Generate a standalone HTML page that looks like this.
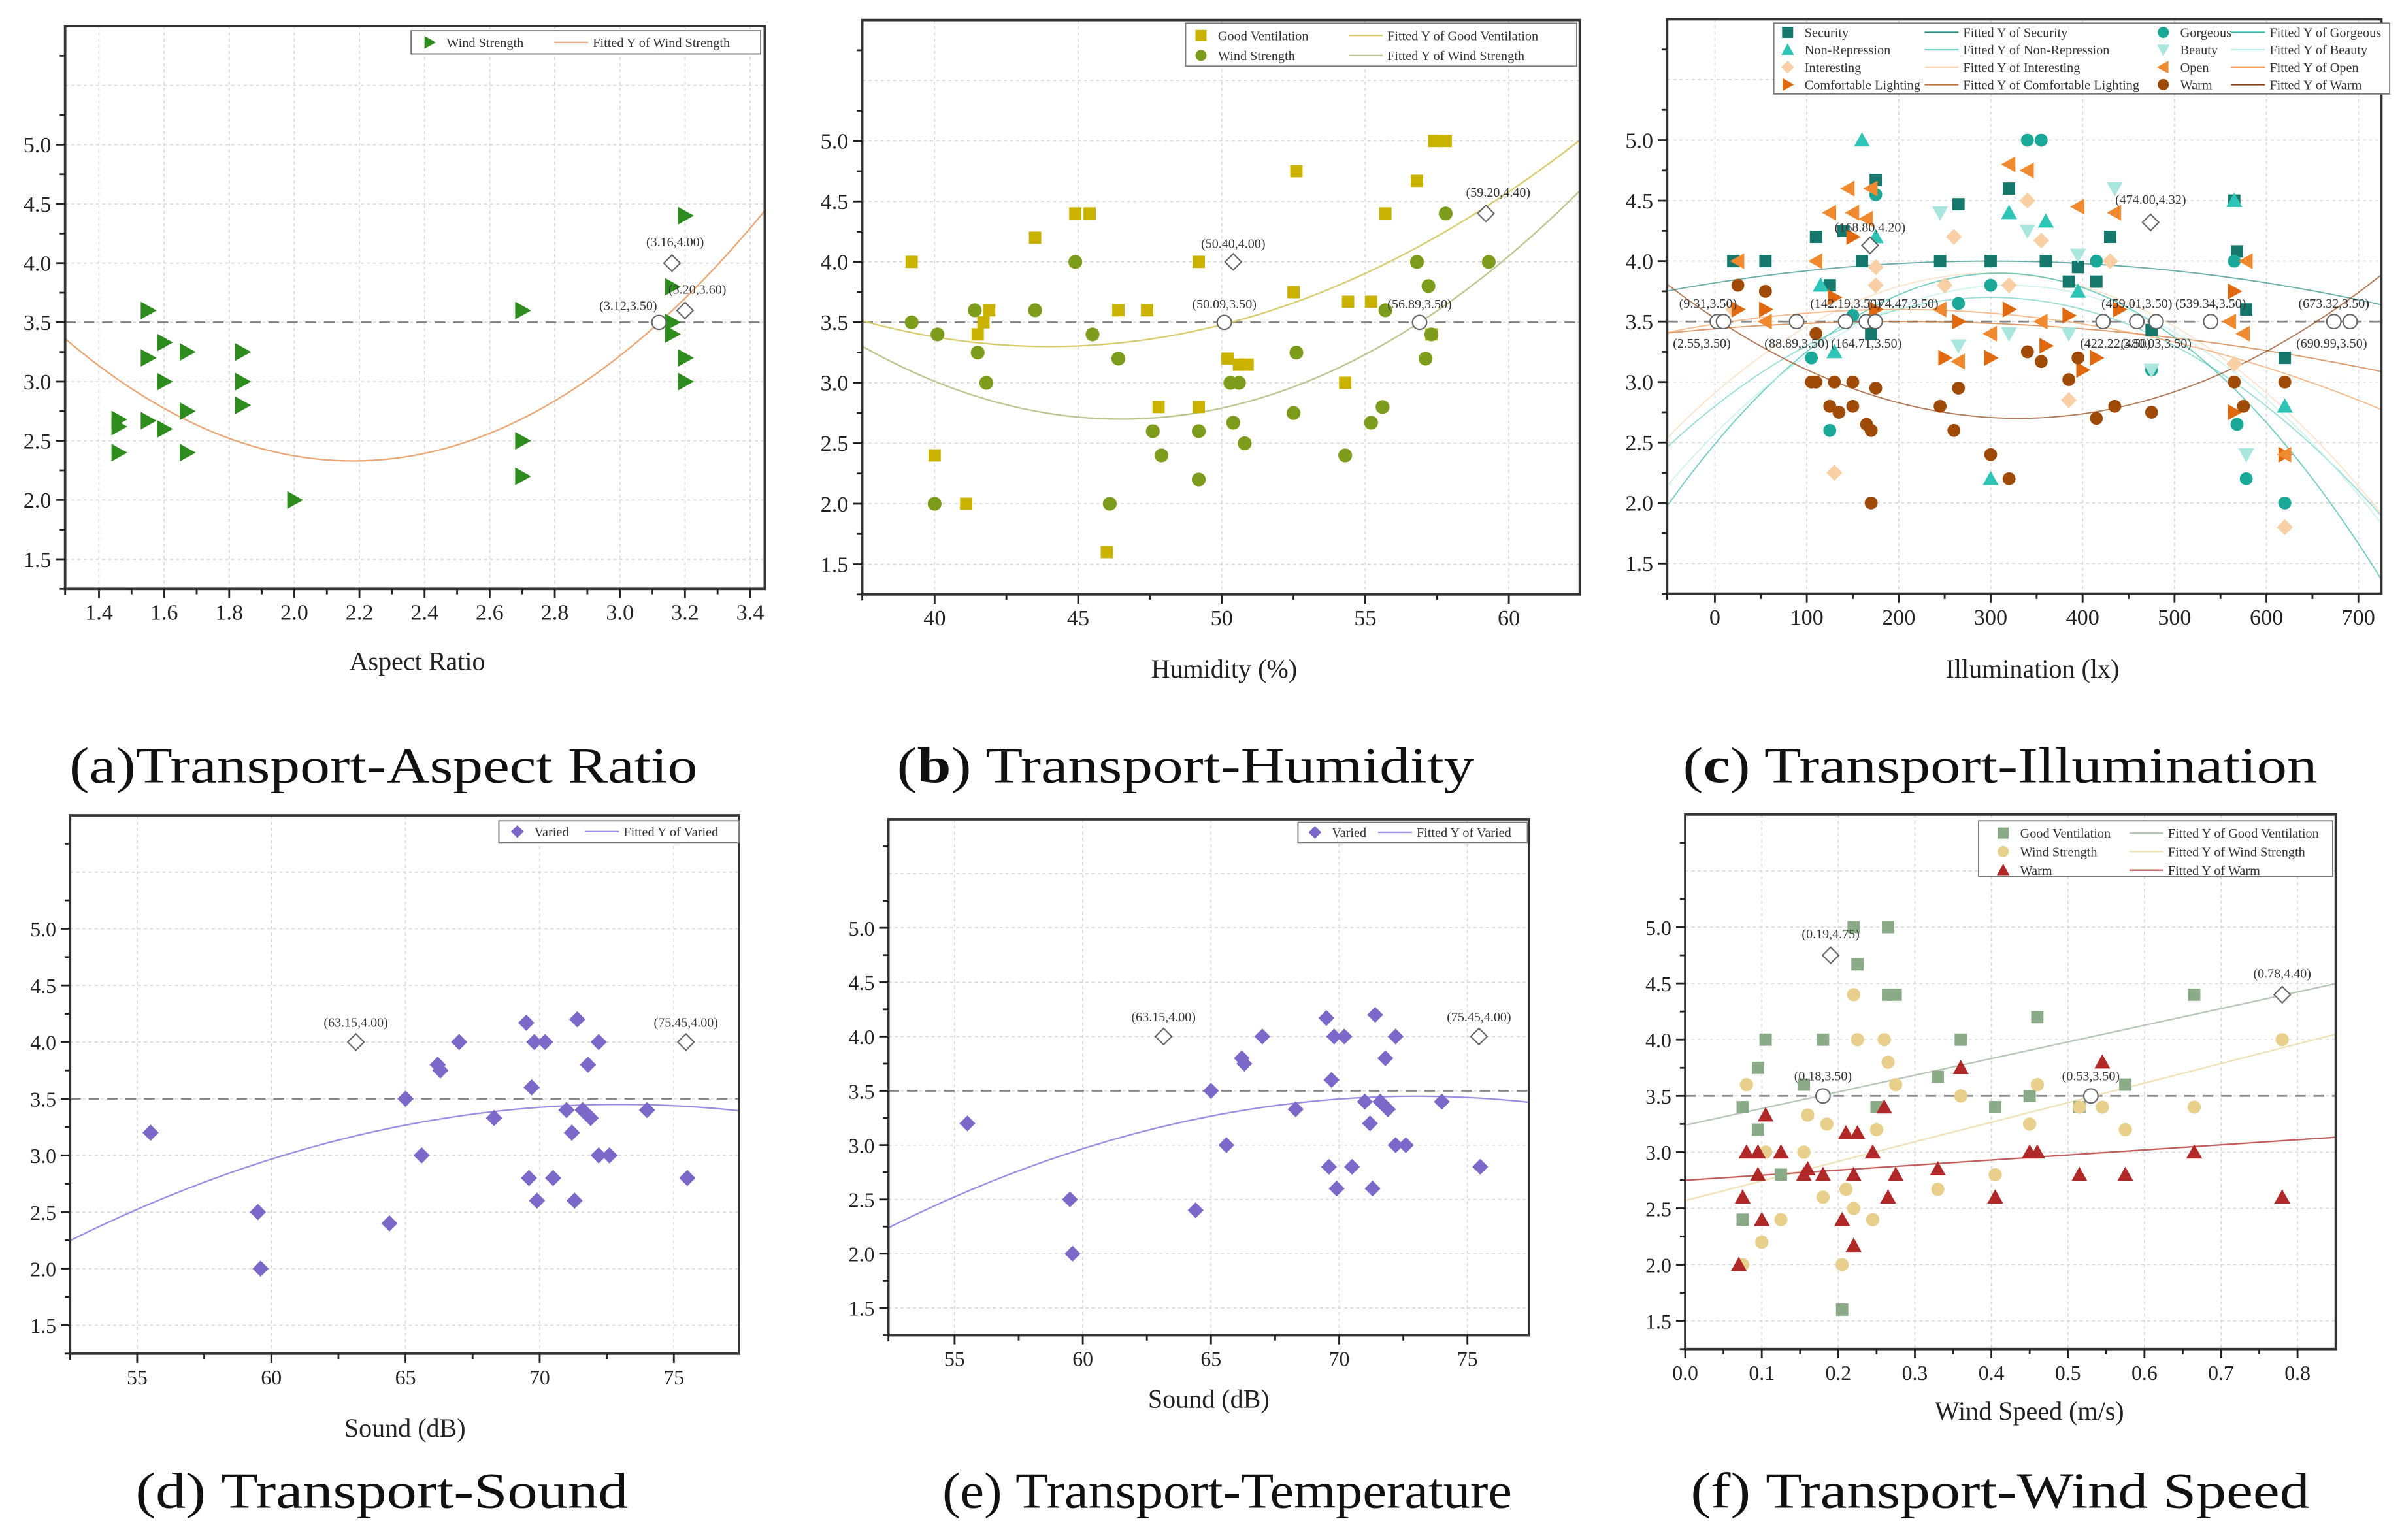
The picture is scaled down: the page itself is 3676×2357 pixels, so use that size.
<!DOCTYPE html>
<html><head><meta charset="utf-8"><style>
html,body{margin:0;padding:0;background:#fff;}
svg{display:block;}
text{font-family:"Liberation Serif",serif;}
</style></head><body>
<svg id="fig" xmlns="http://www.w3.org/2000/svg" width="3676" height="2357" viewBox="0 0 1560 1000" preserveAspectRatio="none"></svg>
<script>
// ---------- DATA ----------
const aTicksX = [1.4,1.6,1.8,2.0,2.2,2.4,2.6,2.8,3.0,3.2,3.4];
const aWindX = [1.46,1.46,1.46,1.55,1.55,1.55,1.6,1.6,1.6,1.67,1.67,1.67,1.84,1.84,1.84,2.0,2.7,2.7,2.7,3.16,3.16,3.16,3.2,3.2,3.2];
const aWindY = [2.68,2.62,2.4,3.6,3.2,2.67,3.33,3.0,2.6,3.25,2.75,2.4,3.25,3.0,2.8,2.0,3.6,2.5,2.2,3.8,3.5,3.4,4.4,3.2,3.0];
const aFitWind = [1.32,2.18,2.33];
const aAnnX = [3.12,3.16,3.20];
const aAnnY = [3.5,4.0,3.6];
const aAnnLabels = ["(3.12,3.50)","(3.16,4.00)","(3.20,3.60)"];

const bTicksX = [40,45,50,55,60];
const bVentX = [39.2,40,41.1,41.5,41.7,41.9,43.5,44.9,45.4,46.4,46.0,47.4,47.8,49.2,49.2,50.2,50.6,50.9,52.5,52.6,54.3,54.4,55.2,55.7,56.8,57.4,57.8,57.3];
const bVentY = [4.0,2.4,2.0,3.4,3.5,3.6,4.2,4.4,4.4,3.6,1.6,3.6,2.8,4.0,2.8,3.2,3.15,3.15,3.75,4.75,3.0,3.67,3.67,4.4,4.67,5.0,5.0,3.4];
const bWindX = [39.2,40.1,40.0,41.4,41.5,41.8,43.5,44.9,45.5,46.1,46.4,47.6,47.9,49.2,49.2,50.3,50.4,50.6,50.8,52.5,52.6,54.3,55.2,55.6,55.7,56.8,57.2,57.3,57.1,57.8,59.3];
const bWindY = [3.5,3.4,2.0,3.6,3.25,3.0,3.6,4.0,3.4,2.0,3.2,2.6,2.4,2.6,2.2,3.0,2.67,3.0,2.5,2.75,3.25,2.4,2.67,2.8,3.6,4.0,3.8,3.4,3.2,4.4,4.0];
const bFitVent = [0.005,44,3.3];
const bFitWind = [0.0074,46.5,2.7];
const bAnnX = [50.09,56.89,50.40,59.20];
const bAnnY = [3.5,3.5,4.0,4.4];
const bAnnLabels = ["(50.09,3.50)","(56.89,3.50)","(50.40,4.00)","(59.20,4.40)"];

const cTicksX = [0,100,200,300,400,500,600,700];
const cSecX = [20,55,110,125,140,160,170,175,245,265,300,320,360,385,395,415,430,475,565,568,578,620];
const cSecY = [4.0,4.0,4.2,3.8,4.25,4.0,3.4,4.67,4.0,4.47,4.0,4.6,4.0,3.83,3.95,3.83,4.2,3.43,4.5,4.08,3.6,3.2];
const cNonX = [115,160,175,320,300,360,395,620,565,130];
const cNonY = [3.8,5.0,4.2,4.4,2.2,4.33,3.75,2.8,4.5,3.25];
const cIntX = [20,130,175,175,260,340,355,385,430,565,620,250,320];
const cIntY = [3.6,2.25,3.8,3.95,4.2,4.5,4.17,2.85,4.0,3.15,1.8,3.8,3.8];
const cComX = [25,55,130,150,175,250,265,300,320,360,385,400,415,440,565,565,620];
const cComY = [3.6,3.6,3.7,4.2,3.6,3.2,3.5,3.2,3.6,3.3,3.55,3.1,3.2,3.6,3.75,2.75,2.4];
const cGorX = [125,150,175,265,300,340,355,415,475,565,568,578,620,105];
const cGorY = [2.6,3.55,4.55,3.65,3.8,5.0,5.0,4.0,3.1,4.0,2.65,2.2,2.0,3.2];
const cBeaX = [245,265,320,340,395,435,475,578,385];
const cBeaY = [4.4,3.3,3.4,4.25,4.05,4.6,3.1,2.4,3.4];
const cOpeX = [25,55,110,125,145,150,165,170,245,265,300,320,340,355,395,435,560,578,575,620];
const cOpeY = [4.0,3.5,4.0,4.4,4.6,4.4,4.35,4.6,3.6,3.17,3.4,4.8,4.75,3.5,4.45,4.4,3.5,4.0,3.4,2.4];
const cWarX = [25,55,110,110,125,130,150,150,165,170,170,175,245,260,265,300,320,340,355,385,395,415,435,475,565,575,620,105,135];
const cWarY = [3.8,3.75,3.4,3.0,2.8,3.0,3.0,2.8,2.65,2.6,2.0,2.95,2.8,2.6,2.95,2.4,2.2,3.25,3.17,3.02,3.2,2.7,2.8,2.75,3.0,2.8,3.0,3.0,2.75];
const cFitSec = [-2e-6,300,4.0];
const cFitNon = [-1e-5,300,3.7];
const cFitInt = [-1.1e-5,300,3.9];
const cFitCom = [-1.5e-6,200,3.5];
const cFitGor = [-1.47e-5,310,3.9];
const cFitBea = [-1.2e-5,320,3.8];
const cFitOpe = [-3e-6,200,3.6];
const cFitWar = [7.6e-6,330,2.7];
const cAnnX = [2.55,9.31,88.89,142.19,164.71,174.47,422.22,459.01,480.03,539.34,673.32,690.99,168.80,474.00];
const cAnnY = [3.5,3.5,3.5,3.5,3.5,3.5,3.5,3.5,3.5,3.5,3.5,3.5,4.13,4.32];
const cAnnLabels = ["(2.55,3.50)","(9.31,3.50)","(88.89,3.50)","(142.19,3.50)","(164.71,3.50)","(174.47,3.50)","(422.22,3.50)","(459.01,3.50)","(480.03,3.50)","(539.34,3.50)","(673.32,3.50)","(690.99,3.50)","(168.80,4.20)","(474.00,4.32)"];

const dTicksX = [55,60,65,70,75];
const dVarX = [55.5,59.5,59.6,64.4,65,65.6,66.2,66.3,67,68.3,69.5,69.6,69.7,69.8,69.9,70.2,70.5,71,71.2,71.3,71.4,71.6,71.8,71.9,72.2,72.2,72.6,74,75.5];
const dVarY = [3.2,2.5,2.0,2.4,3.5,3.0,3.8,3.75,4.0,3.33,4.17,2.8,3.6,4.0,2.6,4.0,2.8,3.4,3.2,2.6,4.2,3.4,3.8,3.33,4.0,3.0,3.0,3.4,2.8];
const dFitVar = [-0.00286,73,3.45];
const dAnnX = [63.15,75.45];
const dAnnY = [4.0,4.0];
const dAnnLabels = ["(63.15,4.00)","(75.45,4.00)"];

const fTicksX = [0.0,0.1,0.2,0.3,0.4,0.5,0.6,0.7,0.8];
const fVentX = [0.075,0.075,0.095,0.095,0.105,0.125,0.18,0.155,0.205,0.22,0.225,0.25,0.265,0.265,0.275,0.33,0.36,0.405,0.45,0.46,0.665,0.575,0.515];
const fVentY = [3.4,2.4,3.2,3.75,4.0,2.8,4.0,3.6,1.6,5.0,4.67,3.4,5.0,4.4,4.4,3.67,4.0,3.4,3.5,4.2,4.4,3.6,3.4];
const fWindX = [0.075,0.08,0.1,0.105,0.125,0.155,0.16,0.185,0.205,0.21,0.22,0.225,0.245,0.25,0.26,0.265,0.275,0.33,0.36,0.405,0.45,0.46,0.515,0.545,0.575,0.665,0.78,0.22,0.18];
const fWindY = [2.0,3.6,2.2,3.0,2.4,3.0,3.33,3.25,2.0,2.67,4.4,4.0,2.4,3.2,4.0,3.8,3.6,2.67,3.5,2.8,3.25,3.6,3.4,3.4,3.2,3.4,4.0,2.5,2.6];
const fWarmX = [0.07,0.075,0.08,0.095,0.095,0.105,0.125,0.155,0.16,0.18,0.205,0.21,0.22,0.225,0.245,0.26,0.275,0.33,0.36,0.405,0.45,0.46,0.515,0.545,0.575,0.665,0.78,0.1,0.265,0.22];
const fWarmY = [2.0,2.6,3.0,3.0,2.8,3.33,3.0,2.8,2.85,2.8,2.4,3.17,2.17,3.17,3.0,3.4,2.8,2.85,3.75,2.6,3.0,3.0,2.8,3.8,2.8,3.0,2.6,2.4,2.6,2.8];
const fFitVent = [3.24,1.48];
const fFitWind = [2.57,1.74];
const fFitWarm = [2.75,0.45];
const fAnnX = [0.18,0.53,0.19,0.78];
const fAnnY = [3.5,3.5,4.75,4.40];
const fAnnLabels = ["(0.18,3.50)","(0.53,3.50)","(0.19,4.75)","(0.78,4.40)"];

const yTickVals = [1.5,2.0,2.5,3.0,3.5,4.0,4.5,5.0];

// ---------- DRAWING ----------
const NS = "http://www.w3.org/2000/svg";
const svg = document.getElementById('fig');
function mk(tag, attrs, parent, name, inter) {
  const el = document.createElementNS(NS, tag);
  for (const k in attrs) el.setAttribute(k, attrs[k]);
  
  
  (parent || svg).appendChild(el);
  return el;
}
function txt(str, x, y, size, anchor, parent, name, extra) {
  const a = Object.assign({x:x, y:y, 'font-size':size, 'text-anchor':anchor||'middle', fill:'#222'}, extra||{});
  const t = mk('text', a, parent, name, false);
  t.textContent = str;
  return t;
}
function marker(g, shape, cx, cy, s, fill, stroke, name) {
  let el;
  const sw = stroke ? 0.9 : 0;
  const st = stroke || 'none';
  if (shape === 'square') el = mk('rect', {x:cx-s, y:cy-s, width:2*s, height:2*s, fill:fill, stroke:st, 'stroke-width':sw}, g, name, false);
  else if (shape === 'circle') el = mk('circle', {cx:cx, cy:cy, r:s, fill:fill, stroke:st, 'stroke-width':sw}, g, name, false);
  else {
    let pts;
    const k = s*1.15;
    if (shape === 'up') pts = [[cx,cy-k],[cx+k,cy+k*0.8],[cx-k,cy+k*0.8]];
    else if (shape === 'down') pts = [[cx,cy+k],[cx+k,cy-k*0.8],[cx-k,cy-k*0.8]];
    else if (shape === 'right') pts = [[cx+k,cy],[cx-k*0.8,cy-k],[cx-k*0.8,cy+k]];
    else if (shape === 'left') pts = [[cx-k,cy],[cx+k*0.8,cy-k],[cx+k*0.8,cy+k]];
    else pts = [[cx,cy-k],[cx+k,cy],[cx,cy+k],[cx-k,cy]];
    el = mk('polygon', {points: pts.map(p=>p.join(',')).join(' '), fill:fill, stroke:st, 'stroke-width':sw}, g, name, false);
  }
  return el;
}

function panel(cfg) {
  const g = mk('g', {}, svg, 'panel-' + cfg.id, false);
  const L=cfg.box[0], T=cfg.box[1], R=cfg.box[2], B=cfg.box[3];
  const sx = v => L + (v - cfg.xd[0]) / (cfg.xd[1]-cfg.xd[0]) * (R-L);
  const sy = v => B - (v - 1.25) / (6.0 - 1.25) * (B-T);
  const clip = mk('clipPath', {id:'clip-'+cfg.id}, g, 'clip-' + cfg.id, false);
  mk('rect', {x:L, y:T, width:R-L, height:B-T}, clip, 'clip-rect', false);
  const grid = mk('g', {stroke:'#d8d8d8', 'stroke-width':0.7, 'stroke-dasharray':'2,2'}, g, 'grid-' + cfg.id, false);
  cfg.xt.forEach(v => mk('line', {x1:sx(v), x2:sx(v), y1:T, y2:B}, grid, 'grid-x', false));
  for (let v=1.5; v<=5.99; v+=0.5) mk('line', {x1:L, x2:R, y1:sy(v), y2:sy(v)}, grid, 'grid-y', false);
  mk('line', {x1:L, x2:R, y1:sy(3.5), y2:sy(3.5), stroke:'#888', 'stroke-width':1.2, 'stroke-dasharray':'7,5'}, g, 'threshold-line-3-5', false);
  const fg = mk('g', {'clip-path':'url(#clip-'+cfg.id+')'}, g, 'fit-lines', false);
  cfg.fits.forEach(f => {
    const pts = [];
    for (let i=0;i<=120;i++) {
      const x = cfg.xd[0] + (cfg.xd[1]-cfg.xd[0])*i/120;
      const y = f.p.length===3 ? f.p[0]*(x-f.p[1])*(x-f.p[1]) + f.p[2] : f.p[0] + f.p[1]*x;
      pts.push(sx(x).toFixed(2)+','+sy(y).toFixed(2));
    }
    mk('polyline', {points:pts.join(' '), fill:'none', stroke:f.c, 'stroke-width':cfg.fitW||1, opacity:cfg.fitO||1}, fg, f.name, false);
  });
  cfg.series.forEach(s => {
    const sg = mk('g', {}, g, s.name, false);
    s.x.forEach((xv,i) => marker(sg, s.shape, sx(xv), sy(s.y[i]), s.r||4.5, s.c, s.stroke, s.name + '-point'));
  });
  const ag = mk('g', {}, g, 'annotations', false);
  cfg.ann.x.forEach((xv,i) => {
    const px = sx(xv), py = sy(cfg.ann.y[i]);
    const isDia = Math.abs(cfg.ann.y[i]-3.5) > 0.01;
    marker(ag, isDia ? 'diamond' : 'circle', px, py, 4.6, '#fff', '#666', isDia ? 'annotation-diamond' : 'annotation-circle');
    const off = cfg.ann.off ? cfg.ann.off[i] : -9;
    txt(cfg.ann.l[i], px + (cfg.ann.dx ? cfg.ann.dx[i] : 0), py + off, 8.5, 'middle', ag, 'annotation-label', {fill:'#333'});
  });
  mk('rect', {x:L, y:T, width:R-L, height:B-T, fill:'none', stroke:'#333', 'stroke-width':1.6}, g, 'plot-frame', false);
  const tg = mk('g', {stroke:'#222', 'stroke-width':1.2}, g, 'ticks', false);
  cfg.xt.forEach(v => mk('line', {x1:sx(v), x2:sx(v), y1:B, y2:B+6}, tg, 'x-tick', false));
  for (let i=0;i<cfg.xt.length-1;i++) { const m=(cfg.xt[i]+cfg.xt[i+1])/2; mk('line', {x1:sx(m), x2:sx(m), y1:B, y2:B+3.5}, tg, 'x-minor-tick', false); }
  mk('line', {x1:L, x2:L, y1:B, y2:B+4}, tg, 'x-minor-tick', false);
  yTickVals.forEach(v => mk('line', {x1:L-6, x2:L, y1:sy(v), y2:sy(v)}, tg, 'y-tick', false));
  for (let v=1.25; v<=5.8; v+=0.5) mk('line', {x1:L-3.5, x2:L, y1:sy(v), y2:sy(v)}, tg, 'y-minor-tick', false);
  cfg.xt.forEach((v,i) => txt(cfg.xl[i], sx(v), B+20, cfg.fs, 'middle', g, 'x-tick-label'));
  yTickVals.forEach(v => txt(v.toFixed(1), L-9, sy(v)+5, cfg.fs, 'end', g, 'y-tick-label'));
  txt(cfg.xtitle, cfg.xtp[0], cfg.xtp[1], 17, 'middle', g, 'x-axis-title');
  const cap = txt('', cfg.cap[0], cfg.cap[1], 33, 'middle', g, 'panel-caption', {fill:'#111', textLength:cfg.capW, lengthAdjust:'spacingAndGlyphs'});
  const t1 = mk('tspan', {}, cap, 'caption-letter', false); t1.textContent = cfg.capA;
  const t2 = mk('tspan', cfg.capBold ? {'font-weight':'bold'} : {}, cap, 'caption-letter', false); t2.textContent = cfg.capB;
  const t3 = mk('tspan', {}, cap, 'caption-text', false); t3.textContent = cfg.capC;
  const lg = mk('g', {}, g, 'legend', false);
  const lb = cfg.leg.box;
  mk('rect', {x:lb[0], y:lb[1], width:lb[2]-lb[0], height:lb[3]-lb[1], fill:'#fff', stroke:'#777', 'stroke-width':0.8}, lg, 'legend-box', false);
  cfg.leg.items.forEach(it => {
    if (it.line) mk('line', {x1:it.x, x2:it.x+22, y1:it.y, y2:it.y, stroke:it.c, 'stroke-width':1}, lg, 'legend-line', false);
    else marker(lg, it.shape, it.x+5, it.y, 3.6, it.c, null, 'legend-marker');
    txt(it.t, it.x + (it.line ? 25 : 16), it.y+3, 8.6, 'start', lg, 'legend-entry', {fill:'#333'});
  });
  return g;
}

function legendItems(entries, x0, y0, colW, rowH, perCol) {
  return entries.map((e,i) => Object.assign({x: x0 + Math.floor(i/perCol)*colW, y: y0 + (i%perCol)*rowH}, e));
}

panel({id:'a', box:[42.3,17,496.7,382.4], xd:[1.296,3.445], xt:aTicksX, xl:aTicksX.map(v=>v.toFixed(1)), fs:14.5,
  xtitle:'Aspect Ratio', xtp:[271,435], cap:[249,508], capW:408, capA:'(a)', capB:'', capC:'Transport-Aspect Ratio',
  fits:[{p:aFitWind, c:'#e8a878', name:'fit-wind-strength'}],
  series:[{name:'wind-strength-series', x:aWindX, y:aWindY, shape:'right', c:'#2e8b1e', r:5}],
  ann:{x:aAnnX, y:aAnnY, l:aAnnLabels, off:[-8,-11,-11], dx:[-20,2,8]},
  leg:{box:[267,20,494,35], items:[{x:274,y:27.5,shape:'right',c:'#2e8b1e',t:'Wind Strength'},{x:360,y:27.5,line:1,c:'#e8a878',t:'Fitted Y of Wind Strength'}]}});

panel({id:'b', box:[560,13,1026,386], xd:[37.48,62.47], xt:bTicksX, xl:bTicksX.map(String), fs:14.5,
  xtitle:'Humidity (%)', xtp:[795,440], cap:[770,508], capW:375, capA:'(', capB:'b', capBold:1, capC:') Transport-Humidity',
  fits:[{p:bFitVent, c:'#d8cc70', name:'fit-good-ventilation'},{p:bFitWind, c:'#b8c890', name:'fit-wind-strength'}],
  series:[{name:'good-ventilation-series', x:bVentX, y:bVentY, shape:'square', c:'#c9b300', r:4},
          {name:'wind-strength-series', x:bWindX, y:bWindY, shape:'circle', c:'#7d9c1c', r:4.5}],
  ann:{x:bAnnX, y:bAnnY, l:bAnnLabels, off:[-9,-9,-9,-11], dx:[0,0,0,8]},
  leg:{box:[770,15,1024,43], items:legendItems([{shape:'square',c:'#c9b300',t:'Good Ventilation'},{shape:'circle',c:'#7d9c1c',t:'Wind Strength'},{line:1,c:'#d8cc70',t:'Fitted Y of Good Ventilation'},{line:1,c:'#b8c890',t:'Fitted Y of Wind Strength'}], 775, 23, 101, 13, 2)}});

panel({id:'c', box:[1082.7,12.5,1546.6,385.5], xd:[-52,725], xt:cTicksX, xl:cTicksX.map(String), fs:14.5, fitW:0.8, fitO:0.7,
  xtitle:'Illumination (lx)', xtp:[1320,440], cap:[1299,508], capW:412, capA:'(', capB:'c', capBold:1, capC:') Transport-Illumination',
  fits:[{p:cFitSec,c:'#2a8a80',name:'fit-security'},{p:cFitNon,c:'#6fd0c4',name:'fit-non-repression'},{p:cFitInt,c:'#fbd8b8',name:'fit-interesting'},{p:cFitCom,c:'#c87030',name:'fit-comfortable-lighting'},{p:cFitGor,c:'#3ab8a8',name:'fit-gorgeous'},{p:cFitBea,c:'#bfeee6',name:'fit-beauty'},{p:cFitOpe,c:'#f0a060',name:'fit-open'},{p:cFitWar,c:'#904010',name:'fit-warm'}],
  series:[{name:'security-series',x:cSecX,y:cSecY,shape:'square',c:'#16786c',r:4},
          {name:'non-repression-series',x:cNonX,y:cNonY,shape:'up',c:'#2ec4b6',r:4.5},
          {name:'interesting-series',x:cIntX,y:cIntY,shape:'diamond',c:'#f9cfa5',r:4.5},
          {name:'comfortable-lighting-series',x:cComX,y:cComY,shape:'right',c:'#e0680e',r:4.5},
          {name:'gorgeous-series',x:cGorX,y:cGorY,shape:'circle',c:'#1aa898',r:4.2},
          {name:'beauty-series',x:cBeaX,y:cBeaY,shape:'down',c:'#a8e6de',r:4.5},
          {name:'open-series',x:cOpeX,y:cOpeY,shape:'left',c:'#f08a30',r:4.5},
          {name:'warm-series',x:cWarX,y:cWarY,shape:'circle',c:'#a04a08',r:4.2}],
  ann:{x:cAnnX, y:cAnnY, l:cAnnLabels, off:[17,-9,17,-9,17,-9,17,-9,17,-9,-9,17,-9,-12], dx:[-10,-10,0,0,0,18,8,0,0,0,0,-12,0,0]},
  leg:{box:[1152,15,1552,61], items:legendItems([{shape:'square',c:'#16786c',t:'Security'},{shape:'up',c:'#2ec4b6',t:'Non-Repression'},{shape:'diamond',c:'#f9cfa5',t:'Interesting'},{shape:'right',c:'#e0680e',t:'Comfortable Lighting'}], 1156, 21, 100, 11.3, 4)
     .concat(legendItems([{line:1,c:'#2a8a80',t:'Fitted Y of Security'},{line:1,c:'#6fd0c4',t:'Fitted Y of Non-Repression'},{line:1,c:'#fbd8b8',t:'Fitted Y of Interesting'},{line:1,c:'#c87030',t:'Fitted Y of Comfortable Lighting'}], 1250, 21, 100, 11.3, 4))
     .concat(legendItems([{shape:'circle',c:'#1aa898',t:'Gorgeous'},{shape:'down',c:'#a8e6de',t:'Beauty'},{shape:'left',c:'#f08a30',t:'Open'},{shape:'circle',c:'#a04a08',t:'Warm'}], 1400, 21, 100, 11.3, 4))
     .concat(legendItems([{line:1,c:'#3ab8a8',t:'Fitted Y of Gorgeous'},{line:1,c:'#bfeee6',t:'Fitted Y of Beauty'},{line:1,c:'#f0a060',t:'Fitted Y of Open'},{line:1,c:'#904010',t:'Fitted Y of Warm'}], 1449, 21, 100, 11.3, 4))}});

panel({id:'d', box:[45.5,529.5,480,879], xd:[52.5,77.43], xt:dTicksX, xl:dTicksX.map(String), fs:13.5,
  xtitle:'Sound (dB)', xtp:[263,933], cap:[248,979], capW:320, capA:'(d) ', capB:'', capC:'Transport-Sound',
  fits:[{p:dFitVar, c:'#9c8ee0', name:'fit-varied'}],
  series:[{name:'varied-series', x:dVarX, y:dVarY, shape:'diamond', c:'#7b68c8', r:4.6}],
  ann:{x:dAnnX, y:dAnnY, l:dAnnLabels, off:[-10,-10]},
  leg:{box:[324,533,480,547], items:[{x:331,y:540,shape:'diamond',c:'#7b68c8',t:'Varied'},{x:380,y:540,line:1,c:'#9c8ee0',t:'Fitted Y of Varied'}]}});

panel({id:'e', box:[577,532,993,867], xd:[52.42,77.4], xt:dTicksX, xl:dTicksX.map(String), fs:13.5,
  xtitle:'Sound (dB)', xtp:[785,914], cap:[797,979], capW:370, capA:'(e) ', capB:'', capC:'Transport-Temperature',
  fits:[{p:dFitVar, c:'#9c8ee0', name:'fit-varied'}],
  series:[{name:'varied-series', x:dVarX, y:dVarY, shape:'diamond', c:'#7b68c8', r:4.5}],
  ann:{x:dAnnX, y:dAnnY, l:dAnnLabels, off:[-10,-10]},
  leg:{box:[843,534,992,547], items:[{x:849,y:540.5,shape:'diamond',c:'#7b68c8',t:'Varied'},{x:895,y:540.5,line:1,c:'#9c8ee0',t:'Fitted Y of Varied'}]}});

panel({id:'f', box:[1094.5,529,1517,876], xd:[0,0.85], xt:fTicksX, xl:fTicksX.map(v=>v.toFixed(1)), fs:13.5,
  xtitle:'Wind Speed (m/s)', xtp:[1318,922], cap:[1299,979], capW:402, capA:'(f) ', capB:'', capC:'Transport-Wind Speed',
  fits:[{p:fFitVent, c:'#b8c8b8', name:'fit-good-ventilation'},{p:fFitWind, c:'#f0e2b8', name:'fit-wind-strength'},{p:fFitWarm, c:'#c06060', name:'fit-warm'}],
  series:[{name:'good-ventilation-series', x:fVentX, y:fVentY, shape:'square', c:'#8aaa88', r:4},
          {name:'wind-strength-series', x:fWindX, y:fWindY, shape:'circle', c:'#e8d08c', r:4.3},
          {name:'warm-series', x:fWarmX, y:fWarmY, shape:'up', c:'#b02828', r:4.5}],
  ann:{x:fAnnX, y:fAnnY, l:fAnnLabels, off:[-10,-10,-11,-11]},
  leg:{box:[1285,533,1515,569], items:legendItems([{shape:'square',c:'#8aaa88',t:'Good Ventilation'},{shape:'circle',c:'#e8d08c',t:'Wind Strength'},{shape:'up',c:'#b02828',t:'Warm'}], 1296, 541, 0, 12, 3)
     .concat(legendItems([{line:1,c:'#b8c8b8',t:'Fitted Y of Good Ventilation'},{line:1,c:'#f0e2b8',t:'Fitted Y of Wind Strength'},{line:1,c:'#c06060',t:'Fitted Y of Warm'}], 1383, 541, 0, 12, 3))}});
</script>
</body></html>
